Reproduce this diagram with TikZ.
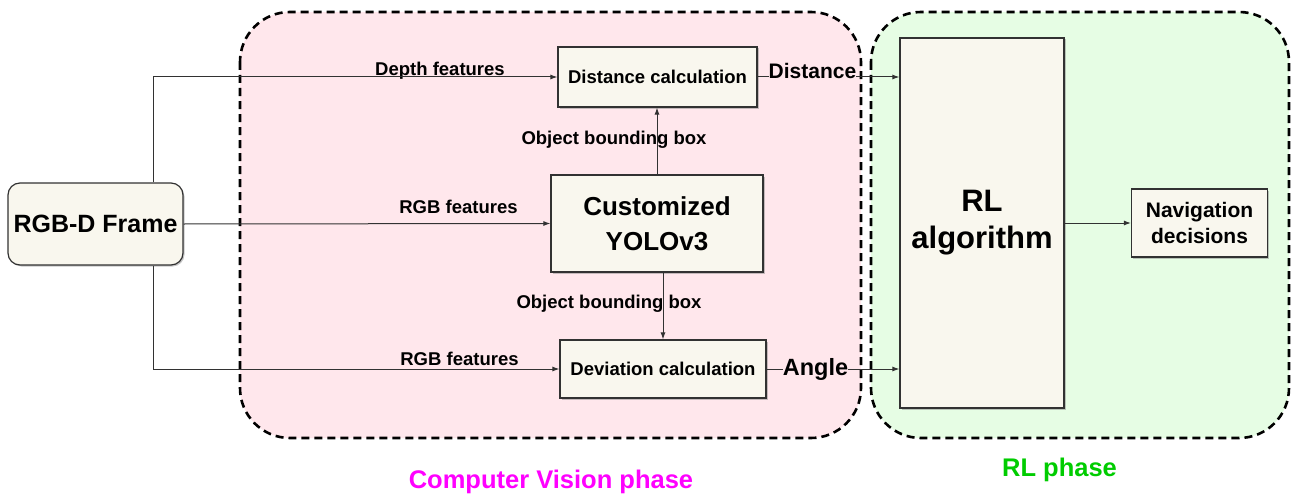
\documentclass[tikz,border=0pt]{standalone}
\usepackage{fontspec}
\setmainfont{Liberation Sans}
\usetikzlibrary{shadows,arrows.meta}
\definecolor{cvpink}{RGB}{255,231,236}
\definecolor{rlgreen}{RGB}{230,253,228}
\definecolor{boxfill}{RGB}{249,247,238}
\definecolor{edgegray}{RGB}{50,50,50}
\definecolor{cvmagenta}{RGB}{255,0,255}
\definecolor{rlgreentext}{RGB}{0,204,0}

\begin{document}
\begin{tikzpicture}[x=1pt,y=-1pt,
        box/.style={draw=edgegray,fill=boxfill,line width=1.2pt,inner sep=0pt,align=center,
            drop shadow={shadow xshift=1.5pt,shadow yshift=-1.5pt,fill=black!45,opacity=.5}},
        lbl/.style={inner sep=0pt,anchor=base,font=\bfseries\fontsize{18.5}{22}\selectfont},
        phase/.style={draw=black,line width=2.6pt,dash pattern=on 8pt off 5pt,rounded corners=50pt},
        link/.style={draw=edgegray,line width=1pt,-{Latex[length=7pt,width=5pt]}}]
    \useasboundingbox (0,0) rectangle (1296,495);

    \draw[phase,fill=cvpink]  (240,12) rectangle (861,438);
    \draw[phase,fill=rlgreen] (871,12) rectangle (1289,438);

    \node[box,rounded corners=12pt,minimum width=175,minimum height=82,
          font=\bfseries\fontsize{25}{30}\selectfont] (rgbd) at (95.5,224) {RGB-D Frame};
    \node[box,minimum width=199,minimum height=60,
          font=\bfseries\fontsize{18.5}{22}\selectfont] (dist) at (657.5,77) {Distance calculation};
    \node[box,minimum width=212,minimum height=97,
          font=\bfseries\fontsize{26}{35}\selectfont] (yolo) at (657,223.5) {Customized\\YOLOv3};
    \node[box,minimum width=206,minimum height=58,
          font=\bfseries\fontsize{18.5}{22}\selectfont] (dev) at (663,369) {Deviation calculation};
    \node[box,minimum width=164,minimum height=370,
          font=\bfseries\fontsize{31}{37}\selectfont] (rl) at (982,223) {RL\\algorithm};
    \node[box,minimum width=136,minimum height=68,
          font=\bfseries\fontsize{21}{26}\selectfont] (nav) at (1199.5,223) {Navigation\\decisions};

    \node[lbl] (depthlbl) at (440,76) {Depth features};
    \node[lbl] (rgblbl1) at (458.5,213) {RGB features};
    \node[lbl] (rgblbl2) at (459.5,365) {RGB features};
    \node[lbl] (bbox1) at (614,144) {Object bounding box};
    \node[lbl] (bbox2) at (609,308) {Object bounding box};
    \node[lbl,font=\bfseries\fontsize{21}{25}\selectfont] (distlbl) at (812.5,78) {Distance};
    \node[lbl,font=\bfseries\fontsize{23.5}{28}\selectfont] (anglbl) at (815.5,375) {Angle};

    \node[lbl,text=cvmagenta,font=\bfseries\fontsize{25.5}{30}\selectfont] (cvtitle) at (551,488) {Computer Vision phase};
    \node[lbl,text=rlgreentext,font=\bfseries\fontsize{25.5}{30}\selectfont] (rltitle) at (1059.5,476) {RL phase};

    \draw[link] ([xshift=57.5pt]rgbd.north) |- (dist.west);
    \draw[link] (rgbd.east) -- (yolo.west);
    \draw[link] ([xshift=57.5pt]rgbd.south) |- (dev.west);
    \draw[link] (yolo.north) -- (yolo.north |- dist.south);
    \draw[link] (dev.north |- yolo.south) -- (dev.north);
    \draw[draw=edgegray,line width=1pt] (dist.east) -- (dist.east -| distlbl.west);
    \draw[link] (distlbl.east |- dist.east) -- (rl.west |- dist.east);   % Distance goes into the RL box
    \draw[draw=edgegray,line width=1pt] (dev.east) -- (dev.east -| anglbl.west);
    \draw[link] (anglbl.east |- dev.east) -- (rl.west |- dev.east);
    \draw[link] (rl.east) -- (nav.west);

\end{tikzpicture}
\end{document}
